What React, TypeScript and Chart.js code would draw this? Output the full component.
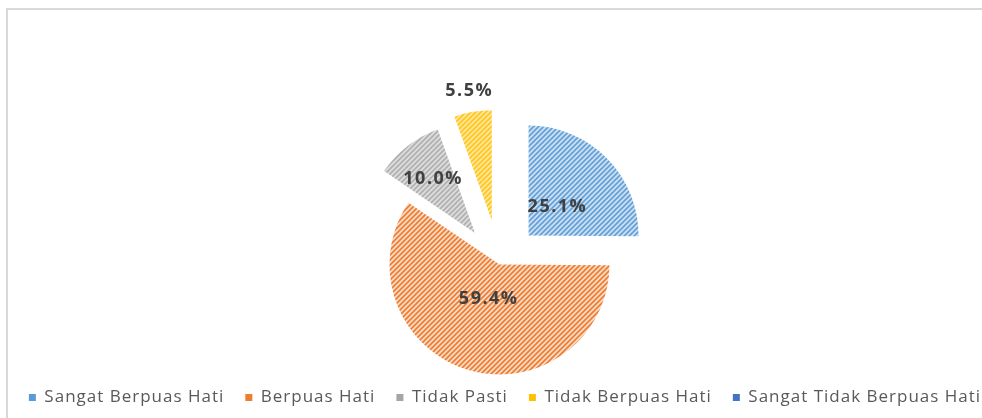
import React, { useEffect, useRef } from 'react';
import { Chart, registerables } from 'chart.js';

Chart.register(...registerables);

const categories = ['Sangat Berpuas Hati', 'Berpuas Hati', 'Tidak Pasti', 'Tidak Berpuas Hati', 'Sangat Tidak Berpuas Hati'];
const percentages = [25.1, 59.4, 10.0, 5.5, 0];
const sliceColors = ['#5b9bd5', '#ed7d31', '#a5a5a5', '#ffc000', '#4472c4'];
const sliceTints = ['#d6e6f5', '#fbdcc8', '#e9e9e9', '#ffedb8', '#cdd9f0'];
const explodePx = [41, 0, 40, 45, 0];
const labelRadial = [0.37, 0.33, 0.62, 1.19, 0.5];

function makePattern(ctx: CanvasRenderingContext2D, fg: string, bg: string) {
  const s = 5;
  const c = document.createElement('canvas');
  c.width = s;
  c.height = s;
  const g = c.getContext('2d')!;
  g.fillStyle = bg;
  g.fillRect(0, 0, s, s);
  g.strokeStyle = fg;
  g.lineWidth = 1.7;
  g.beginPath();
  g.moveTo(-1, s + 1);
  g.lineTo(s + 1, -1);
  g.moveTo(-1, 1);
  g.lineTo(1, -1);
  g.moveTo(s - 1, s + 1);
  g.lineTo(s + 1, s - 1);
  g.stroke();
  return ctx.createPattern(c, 'repeat');
}

const spacingPlugin = {
  id: 'letterSpacingPlugin',
  beforeLayout(chart: any) {
    chart.ctx.letterSpacing = '1px';
  },
  beforeDraw(chart: any) {
    chart.ctx.letterSpacing = '1px';
  },
};

const explodePlugin = {
  id: 'explodePlugin',
  beforeDatasetDraw(chart: any, args: any) {
    const ctx = chart.ctx;
    const meta = args.meta;
    meta.data.forEach((arc: any, i: number) => {
      const p = arc.getProps(['startAngle', 'endAngle'], true);
      const mid = (p.startAngle + p.endAngle) / 2;
      const d = explodePx[i] || 0;
      ctx.save();
      ctx.translate(Math.cos(mid) * d, Math.sin(mid) * d);
      arc.draw(ctx);
      ctx.restore();
    });
    return false;
  },
  afterDatasetsDraw(chart: any) {
    const ctx = chart.ctx;
    const meta = chart.getDatasetMeta(0);
    meta.data.forEach((arc: any, i: number) => {
      const v = percentages[i];
      if (!v) return;
      const p = arc.getProps(['x', 'y', 'startAngle', 'endAngle', 'outerRadius'], true);
      const mid = (p.startAngle + p.endAngle) / 2;
      const d = (explodePx[i] || 0) + labelRadial[i] * p.outerRadius;
      ctx.save();
      ctx.letterSpacing = '1.5px';
      ctx.font = 'bold 18px "Open Sans"';
      ctx.fillStyle = '#404040';
      ctx.textAlign = 'center';
      ctx.textBaseline = 'middle';
      ctx.fillText(v.toFixed(1) + '%', p.x + Math.cos(mid) * d, p.y + Math.sin(mid) * d);
      ctx.restore();
    });
  },
};

export default function App() {
  const canvasRef = useRef<HTMLCanvasElement | null>(null);

  useEffect(() => {
    const canvas = canvasRef.current;
    if (!canvas) return;
    const ctx = canvas.getContext('2d')!;
    const patterns = sliceColors.map((c, i) => makePattern(ctx, c, sliceTints[i]));
    const chart = new Chart(canvas, {
      type: 'pie',
      data: {
        labels: categories,
        datasets: [
          {
            data: percentages,
            backgroundColor: patterns as any,
            borderWidth: 0,
            clip: false as any,
          },
        ],
      },
      options: {
        animation: false,
        responsive: true,
        maintainAspectRatio: false,
        events: [],
        radius: 110,
        layout: { padding: { top: 161, left: 0, right: 0, bottom: 0 } },
        plugins: {
          tooltip: { enabled: false },
          title: {
            display: true,
            text: '',
            position: 'right',
            font: { size: 1, lineHeight: 1 },
            padding: 5,
          },
          legend: {
            display: true,
            position: 'bottom',
            labels: {
              boxWidth: 7,
              boxHeight: 7,
              padding: 21,
              color: '#595959',
              font: { family: '"Open Sans"', size: 17 },
              generateLabels: () =>
                categories.map((c, i) => ({
                  text: c,
                  fillStyle: sliceColors[i],
                  strokeStyle: sliceColors[i],
                  lineWidth: 0,
                  hidden: false,
                  index: i,
                  fontColor: '#595959',
                })),
            },
          },
        },
      } as any,
      plugins: [spacingPlugin, explodePlugin],
    });
    return () => chart.destroy();
  }, []);

  return (
    <div style={{ position: 'fixed', left: 0, top: 0, width: 982, height: 418, overflow: 'hidden', background: '#ffffff' }}>
      <div
        style={{
          position: 'absolute',
          left: 6,
          top: 8,
          width: 1000,
          height: 500,
          border: '2px solid #d9d9d9',
          boxSizing: 'border-box',
        }}
      />
      <div style={{ position: 'absolute', left: -95, top: 0, width: 1200, height: 416 }}>
        <canvas ref={canvasRef} />
      </div>
    </div>
  );
}
